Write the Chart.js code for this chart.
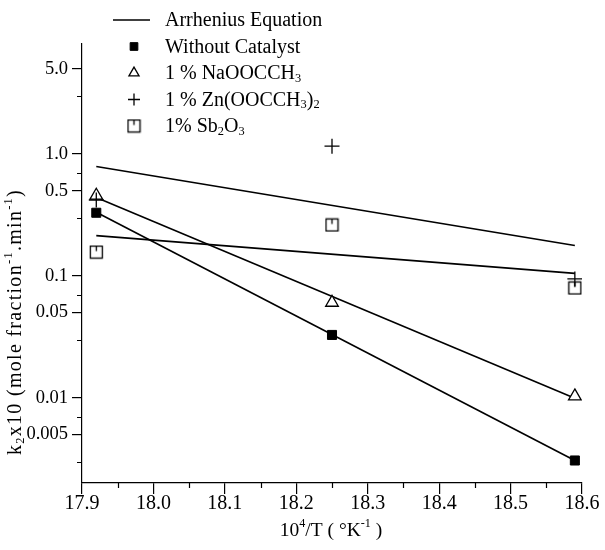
<!DOCTYPE html>
<html>
<head>
<meta charset="utf-8">
<script src="https://cdn.jsdelivr.net/npm/chart.js@4"></script>
<style>
  html, body { margin: 0; padding: 0; background: #fff; }
</style>
</head>
<body>
<canvas id="grafico" width="605" height="550"></canvas>
<script>
// Datos (10^4/T frente a k2x10, escala log)
const X_PUNTOS = [17.92, 18.25, 18.59];
const SIN_CATALIZADOR = [0.330, 0.0328, 0.00306];
const NAOOCCH3 = [0.457, 0.0604, 0.0103];
const ZN_ACETATO = [0.42, 1.16, 0.0945];
const SB2O3 = [0.157, 0.262, 0.0797];

// Rectas de Arrhenius (extremos)
const X_RECTAS = [17.92, 18.59];
const RECTA_SUPERIOR = [0.79, 0.178];
const RECTA_SB = [0.214, 0.105];
const RECTA_NA = [0.44, 0.0099];
const RECTA_SIN = [0.333, 0.00306];

const Y_TICKS = [0.005, 0.01, 0.05, 0.1, 0.5, 1, 5];
const Y_ETIQUETAS = ['0.005', '0.01', '0.05', '0.1', '0.5', '1.0', '5.0'];
const Y_MENORES = [0.003, 0.007, 0.03, 0.07, 0.3, 0.7, 3];
const X_TICKS = [17.9, 18.0, 18.1, 18.2, 18.3, 18.4, 18.5, 18.6];
const X_MENORES = [17.95, 18.05, 18.15, 18.25, 18.35, 18.45, 18.55];

const FUENTE = '"Liberation Serif", "Times New Roman", serif';

function cuadradoConMarca(lado) {
  const c = document.createElement('canvas');
  c.width = lado + 2;
  c.height = lado + 2;
  const g = c.getContext('2d');
  g.fillStyle = '#fff';
  g.fillRect(1, 1, lado, lado);
  g.strokeStyle = '#000';
  g.lineWidth = 1.3;
  g.strokeRect(1.5, 1.5, lado - 1, lado - 1);
  g.beginPath();
  g.moveTo(c.width / 2, 1.5);
  g.lineTo(c.width / 2, lado * 0.5);
  g.stroke();
  return c;
}

const ESTILOS = {
  sin: { pointStyle: 'rect', radius: 6.4, backgroundColor: '#000', borderColor: '#000', borderWidth: 1 },
  na: { pointStyle: 'triangle', radius: 7.3, backgroundColor: '#fff', borderColor: '#000', borderWidth: 1.3 },
  zn: { pointStyle: 'cross', radius: 7.5, backgroundColor: '#000', borderColor: '#000', borderWidth: 1.3 },
  sb: { pointStyle: cuadradoConMarca(13), radius: 7, backgroundColor: '#fff', borderColor: '#000', borderWidth: 1 },
};

function serie(xs, ys) {
  return xs.map((x, i) => ({ x, y: ys[i] }));
}

function datasetPuntos(ys, est) {
  return {
    type: 'scatter',
    data: serie(X_PUNTOS, ys),
    pointStyle: est.pointStyle,
    pointRadius: est.radius,
    pointBackgroundColor: est.backgroundColor,
    pointBorderColor: est.borderColor,
    pointBorderWidth: est.borderWidth,
  };
}

function datasetRecta(ys) {
  return {
    type: 'line',
    data: serie(X_RECTAS, ys),
    borderColor: '#000',
    borderWidth: 1.6,
    pointRadius: 0,
    fill: false,
  };
}

function medirRico(ctx, partes, tam) {
  let w = 0;
  for (const [t, tipo] of partes) {
    ctx.font = `${tipo ? tam * 0.62 : tam}px ${FUENTE}`;
    w += ctx.measureText(t).width;
  }
  return w;
}

function textoRico(ctx, partes, x, y, tam) {
  let cx = x;
  for (const [t, tipo] of partes) {
    ctx.font = `${tipo ? tam * 0.62 : tam}px ${FUENTE}`;
    const dy = tipo === 'sub' ? tam * 0.22 : tipo === 'sup' ? -tam * 0.36 : 0;
    ctx.fillText(t, cx, y + dy);
    cx += ctx.measureText(t).width;
  }
}

const LEYENDA = [
  { tipo: 'linea', partes: [['Arrhenius Equation', '']] },
  { tipo: 'sin', partes: [['Without Catalyst', '']] },
  { tipo: 'na', partes: [['1 % NaOOCCH', ''], ['3', 'sub']] },
  { tipo: 'zn', partes: [['1 % Zn(OOCCH', ''], ['3', 'sub'], [')', ''], ['2', 'sub']] },
  { tipo: 'sb', partes: [['1% Sb', ''], ['2', 'sub'], ['O', ''], ['3', 'sub']] },
];

const pluginExtras = {
  id: 'pluginExtras',
  afterDraw(chart) {
    const { ctx, scales } = chart;
    const xs = scales.x;
    const ys = scales.y;
    ctx.save();
    ctx.strokeStyle = '#000';
    ctx.lineWidth = 1.2;

    // ticks menores
    ctx.beginPath();
    X_MENORES.forEach((v) => {
      const px = Math.round(xs.getPixelForValue(v)) + 0.5;
      ctx.moveTo(px, xs.top);
      ctx.lineTo(px, xs.top + 5);
    });
    Y_MENORES.forEach((v) => {
      const py = Math.round(ys.getPixelForValue(v)) + 0.5;
      ctx.moveTo(ys.right, py);
      ctx.lineTo(ys.right - 5, py);
    });
    ctx.stroke();

    // leyenda
    ctx.fillStyle = '#000';
    ctx.textBaseline = 'middle';
    ctx.textAlign = 'left';
    LEYENDA.forEach((item, i) => {
      const y = 20 + i * 26.5;
      if (item.tipo === 'linea') {
        ctx.lineWidth = 1.6;
        ctx.beginPath();
        ctx.moveTo(113, y);
        ctx.lineTo(150, y);
        ctx.stroke();
      } else {
        const est = ESTILOS[item.tipo];
        ctx.fillStyle = est.backgroundColor;
        ctx.strokeStyle = est.borderColor;
        ctx.lineWidth = est.borderWidth;
        const r = item.tipo === 'sin' ? est.radius * 0.85 : est.radius * 0.8;
        Chart.helpers.drawPoint(ctx, { pointStyle: est.pointStyle, radius: r, borderWidth: est.borderWidth }, 134, y);
        ctx.fillStyle = '#000';
        ctx.strokeStyle = '#000';
      }
      textoRico(ctx, item.partes, 165, y + 1, 20);
    });

    // título eje X
    const tituloX = [['10', ''], ['4', 'sup'], ['/T ( °K', ''], ['-1', 'sup'], [' )', '']];
    const wx = medirRico(ctx, tituloX, 19.5);
    textoRico(ctx, tituloX, 331 - wx / 2, 531, 19.5);

    // título eje Y
    ctx.letterSpacing = '1.3px';
    const tituloY = [['k', ''], ['2', 'sub'], ['x10 (mole fraction', ''], ['-1', 'sup'], ['.min', ''], ['-1', 'sup'], [')', '']];
    const wy = medirRico(ctx, tituloY, 20);
    ctx.translate(16, 322);
    ctx.rotate(-Math.PI / 2);
    textoRico(ctx, tituloY, -wy / 2, 0, 20);
    ctx.restore();
  },
};

new Chart(document.getElementById('grafico'), {
  data: {
    datasets: [
      datasetPuntos(ZN_ACETATO, ESTILOS.zn),
      datasetPuntos(SIN_CATALIZADOR, ESTILOS.sin),
      datasetPuntos(NAOOCCH3, ESTILOS.na),
      datasetPuntos(SB2O3, ESTILOS.sb),
      datasetRecta(RECTA_SUPERIOR),
      datasetRecta(RECTA_SB),
      datasetRecta(RECTA_NA),
      datasetRecta(RECTA_SIN),
    ],
  },
  options: {
    responsive: false,
    animation: false,
    devicePixelRatio: 1,
    layout: { padding: { top: 44, right: 23, left: 0, bottom: 0 } },
    scales: {
      x: {
        type: 'linear',
        min: 17.9,
        max: 18.6,
        afterBuildTicks: (s) => { s.ticks = X_TICKS.map((v) => ({ value: v })); },
        afterFit: (s) => { s.height = 67; },
        ticks: {
          color: '#000',
          padding: -2,
          maxRotation: 0,
          font: { family: FUENTE, size: 20 },
          callback: (v) => Number(v).toFixed(1),
        },
        grid: { drawOnChartArea: false, drawTicks: true, tickLength: 11, color: '#000', lineWidth: 1.2 },
        border: { display: true, color: '#000', width: 1.2 },
      },
      y: {
        type: 'logarithmic',
        min: 0.002,
        max: 8,
        afterBuildTicks: (s) => { s.ticks = Y_TICKS.map((v) => ({ value: v })); },
        afterFit: (s) => { s.width = 82; },
        ticks: {
          color: '#000',
          padding: 4,
          font: { family: FUENTE, size: 18.5 },
          callback: (v) => Y_ETIQUETAS[Y_TICKS.indexOf(v)] ?? '',
        },
        grid: { drawOnChartArea: false, drawTicks: true, tickLength: 10, color: '#000', lineWidth: 1.2 },
        border: { display: true, color: '#000', width: 1.2 },
      },
    },
    plugins: {
      legend: { display: false },
      tooltip: { enabled: false },
    },
  },
  plugins: [pluginExtras],
});
</script>
</body>
</html>
